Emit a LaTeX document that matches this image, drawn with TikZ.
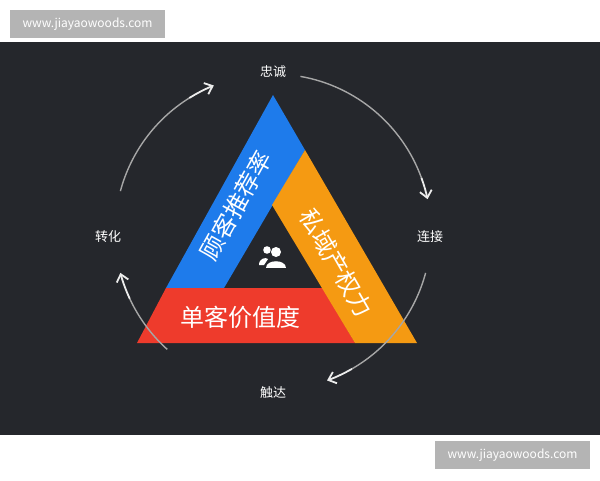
\documentclass[tikz,border=0pt]{standalone}
\usepackage{fontspec}
\setmainfont{Noto Sans CJK SC}
\usetikzlibrary{arrows.meta}
\definecolor{bgdark}{HTML}{25272C}
\definecolor{bandblue}{HTML}{1E7BEB}
\definecolor{bandorange}{HTML}{F59A12}
\definecolor{bandred}{HTML}{EE3B2C}
\definecolor{markgray}{HTML}{B4B4B4}
\tikzset{
  watermark/.style={fill=markgray, text=white, font=\fontsize{12}{14}\selectfont, minimum width=155, minimum height=28, inner sep=0},
  stage/.style={text=white, font=\fontsize{13}{15}\selectfont},
  band/.style={text=white, font=\fontsize{24}{26}\selectfont, inner sep=0},
  ringarc/.style={draw=gray!70, line width=1.4},
  ringarrow/.style={draw=white!85!gray, line width=1.8, -{Straight Barb[length=7,width=12]}},
}
\begin{document}
\begin{tikzpicture}[x=1pt, y=-1pt]
\useasboundingbox (0,0) rectangle (600,480);
\fill[white] (0,0) rectangle (600,480);
\fill[bgdark] (0,42) rectangle (600,435);
% watermarks
\node[watermark] (wmtop) at (87.5,24) {www.jiayaowoods.com};
\node[watermark] (wmbot) at (512.5,455) {www.jiayaowoods.com};
% triangle bands
\fill[bandblue] (273,95) -- (305,150) -- (224,288) -- (166,288) -- cycle;
\fill[bandred] (166,288) -- (323,288) -- (355,343) -- (137,343) -- cycle;
\fill[bandorange] (305,150) -- (417,343) -- (355,343) -- (272,205) -- cycle;
\node[band, rotate=61] (recommend) at (236,206) {顾客推荐率};
\node[band, rotate=-60] (property) at (336,263) {私域产权力};
\node[band] (value) at (240,317) {单客价值度};
% person icon
\fill[white] (276,252) circle (5);
\fill[white] (266,268) .. controls (266,259) and (286,259) .. (286,268) -- cycle;
\fill[white] (267,250) circle (3.8);
\fill[white] (259,265) .. controls (259,258) and (266,257) .. (268,259) -- (264,265) -- cycle;
% cycle stages
\node[stage] (loyal) at (273,72) {忠诚};
\node[stage] (connect) at (430,237) {连接};
\node[stage] (reach) at (273,393) {触达};
\node[stage] (convert) at (108,237) {转化};
\coordinate (hub) at (273,232);
\begin{scope}[shift={(hub)}, y=1pt]
  \draw[ringarc] (80:158) arc (80:20:158);
  \draw[ringarrow] (20:158) arc (20:12:158);
  \draw[ringarc] (-15:158) arc (-15:-60:158);
  \draw[ringarrow] (-60:158) arc (-60:-70:158);
  \draw[ringarc] (228:158) arc (228:205:158);
  \draw[ringarrow] (205:158) arc (205:195:158);
  \draw[ringarc] (165:158) arc (165:122:158);
  \draw[ringarrow] (122:158) arc (122:112:158);
\end{scope}
\end{tikzpicture}
\end{document}
